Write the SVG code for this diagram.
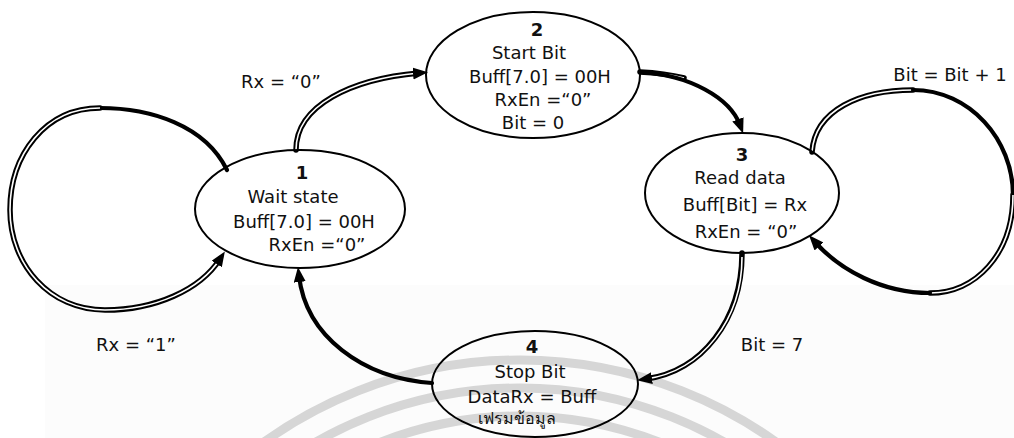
<svg xmlns="http://www.w3.org/2000/svg" width="1014" height="438" viewBox="0 0 1014 438">
  <style>
    .txt { font-family: "DejaVu Sans", "Noto Sans", sans-serif; font-size: 18px; fill: #111; text-anchor: middle; }
    .num { font-weight: bold; }
    .thai { font-size: 16px; }
    .state { fill: none; stroke: #000; stroke-width: 2; }
    .solid { fill: none; stroke: #000; stroke-width: 4.2; stroke-linecap: round; }
    .dbl { fill: none; stroke: #000; stroke-width: 5.5; stroke-linecap: round; }
    .gap { fill: none; stroke: #fff; stroke-width: 1.6; stroke-linecap: butt; }
    .wm { fill: none; stroke: #d6d6d6; stroke-width: 9; }
  </style>
  <defs>
    <marker id="arrow" markerUnits="userSpaceOnUse" markerWidth="16" markerHeight="13" refX="6" refY="6" orient="auto">
      <path d="M0,0 L15,6 L0,12 z" fill="#000"/>
    </marker>
  </defs>

  <rect width="1014" height="438" fill="#fff"/>
  <rect x="45" y="285" width="969" height="153" fill="#fcfcfc"/>

  <!-- background emblem arcs -->
  <g id="emblem">
    <circle class="wm" cx="520" cy="800" r="440"/>
    <circle class="wm" cx="520" cy="800" r="412"/>
    <circle class="wm" cx="520" cy="800" r="384"/>
  </g>

  <g id="connectors">
    <!-- 1 -> 2 : Rx = "0" -->
    <path class="dbl" d="M296,150 C296,105 352,79 419,73"/>
    <path class="gap" d="M296,150 C296,105 352,79 419,73" marker-end="url(#arrow)"/>

    <!-- 2 -> 3 -->
    <path class="dbl" d="M640,72 C660,73 672,75 684,78"/>
    <path class="gap" d="M640,72 C660,73 672,75 684,78"/>
    <path class="solid" d="M640,72 C690,75 730,98 740,125" marker-end="url(#arrow)"/>

    <!-- 3 -> 3 : Bit = Bit + 1 -->
    <path class="dbl" d="M812,152 C815,110 860,90 913,90"/>
    <path class="gap" d="M812,152 C815,110 860,90 913,90"/>
    <path class="solid" d="M913,90 C970,90 1013,140 1013,195"/>
    <path class="dbl" d="M1013,195 C1013,255 975,293 930,293"/>
    <path class="gap" d="M1013,195 C1013,255 975,293 930,293"/>
    <path class="solid" d="M930,293 C882,293 840,270 815,242" marker-end="url(#arrow)"/>

    <!-- 1 -> 1 : Rx = "1" -->
    <path class="solid" d="M227,170 C205,125 150,108 100,108"/>
    <path class="dbl" d="M100,108 C45,108 10,155 10,210 C10,265 50,310 105,310 C155,310 200,290 220,259"/>
    <path class="gap" d="M100,108 C45,108 10,155 10,210 C10,265 50,310 105,310 C155,310 200,290 220,259" marker-end="url(#arrow)"/>

    <!-- 3 -> 4 : Bit = 7 -->
    <path class="dbl" d="M742,253 C742,320 702,371 646,379"/>
    <path class="gap" d="M742,257 C742,320 702,371 646,379" marker-end="url(#arrow)"/>

    <!-- 4 -> 1 -->
    <path class="solid" d="M432,383 C362,378 306,336 299,276" marker-end="url(#arrow)"/>
  </g>

  <g id="state1">
    <ellipse class="state" cx="300" cy="209" rx="105" ry="59"/>
    <text class="txt num" x="302" y="179">1</text>
    <text class="txt" x="293" y="203">Wait state</text>
    <text class="txt" x="304" y="228">Buff[7.0] = 00H</text>
    <text class="txt" x="317" y="251">RxEn =“0”</text>
  </g>

  <g id="state2">
    <ellipse class="state" cx="533" cy="75" rx="107" ry="63"/>
    <text class="txt num" x="537" y="36">2</text>
    <text class="txt" x="529" y="59">Start Bit</text>
    <text class="txt" x="540" y="83">Buff[7.0] = 00H</text>
    <text class="txt" x="543" y="106">RxEn =“0”</text>
    <text class="txt" x="533" y="129">Bit = 0</text>
  </g>

  <g id="state3">
    <ellipse class="state" cx="742" cy="193" rx="97" ry="60"/>
    <text class="txt num" x="742" y="161">3</text>
    <text class="txt" x="740" y="184">Read data</text>
    <text class="txt" x="745" y="211">Buff[Bit] = Rx</text>
    <text class="txt" x="746" y="238">RxEn = “0”</text>
  </g>

  <g id="state4">
    <ellipse class="state" cx="535" cy="384" rx="103" ry="53"/>
    <text class="txt num" x="532" y="353">4</text>
    <text class="txt" x="530" y="378">Stop Bit</text>
    <text class="txt" x="532" y="403">DataRx = Buff</text>
    <text class="txt thai" x="517" y="424">เฟรมข้อมูล</text>
  </g>

  <g id="labels">
    <text class="txt" x="281" y="88">Rx = “0”</text>
    <text class="txt" x="950" y="81">Bit = Bit + 1</text>
    <text class="txt" x="136" y="351">Rx = “1”</text>
    <text class="txt" x="772" y="351">Bit = 7</text>
  </g>
</svg>
